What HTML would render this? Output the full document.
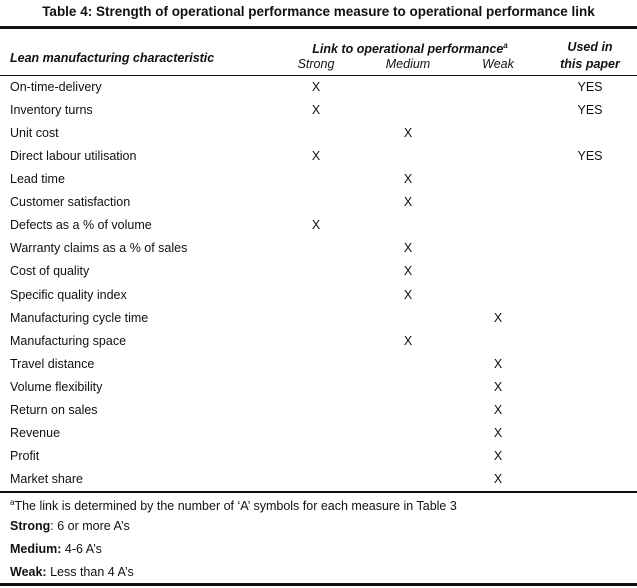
<!DOCTYPE html>
<html><head><style>
body{margin:0;background:#fff;}
#w{position:relative;width:637px;height:588px;font-family:"Liberation Sans",sans-serif;font-size:12.5px;color:#111;}
.t{position:absolute;white-space:nowrap;line-height:14px;}
.c{transform:translateX(-50%);}
.i{font-style:italic;font-weight:bold;}
.ln{position:absolute;left:0;width:637px;background:#111;}
</style></head><body><div id="w">
<div class="t" style="left:0;width:637px;text-align:center;top:5px;font-weight:bold;font-size:13.5px;">Table 4: Strength of operational performance measure to operational performance link</div>
<div class="ln" style="top:26px;height:3px"></div>
<div class="t i c" style="left:410px;top:39px">Link to operational performance<sup style="font-size:8px">a</sup></div>
<div class="t i c" style="left:590px;top:40px">Used in</div>
<div class="t i" style="left:10px;top:51px">Lean manufacturing characteristic</div>
<div class="t i c" style="left:316px;top:57px;font-weight:normal">Strong</div>
<div class="t i c" style="left:408px;top:57px;font-weight:normal">Medium</div>
<div class="t i c" style="left:498px;top:57px;font-weight:normal">Weak</div>
<div class="t i c" style="left:590px;top:57px">this paper</div>
<div class="ln" style="top:75px;height:1px"></div>
<div id="rows"></div>
<div class="ln" style="top:491px;height:1.5px"></div>
<div class="t" style="left:10px;top:496px"><sup style="font-size:8px">a</sup>The link is determined by the number of ‘A’ symbols for each measure in Table 3</div>
<div class="t" style="left:10px;top:519px"><b>Strong</b>: 6 or more A’s</div>
<div class="t" style="left:10px;top:542px"><b>Medium:</b> 4-6 A’s</div>
<div class="t" style="left:10px;top:565px"><b>Weak:</b> Less than 4 A’s</div>
<div class="ln" style="top:583px;height:3px"></div>
<script>
var d=[["On-time-delivery",0,1],["Inventory turns",0,1],["Unit cost",1],["Direct labour utilisation",0,1],["Lead time",1],["Customer satisfaction",1],["Defects as a % of volume",0],["Warranty claims as a % of sales",1],["Cost of quality",1],["Specific quality index",1],["Manufacturing cycle time",2],["Manufacturing space",1],["Travel distance",2],["Volume flexibility",2],["Return on sales",2],["Revenue",2],["Profit",2],["Market share",2]];
var xs=[316,408,498],h="";
d.forEach(function(r,k){var y=80+k*23.06;
h+='<div class="t" style="left:10px;top:'+y+'px">'+r[0]+'</div>';
h+='<div class="t c" style="left:'+xs[r[1]]+'px;top:'+y+'px">X</div>';
if(r[2])h+='<div class="t c" style="left:590px;top:'+y+'px">YES</div>';});
document.getElementById("rows").innerHTML=h;
</script>
</div></body></html>
